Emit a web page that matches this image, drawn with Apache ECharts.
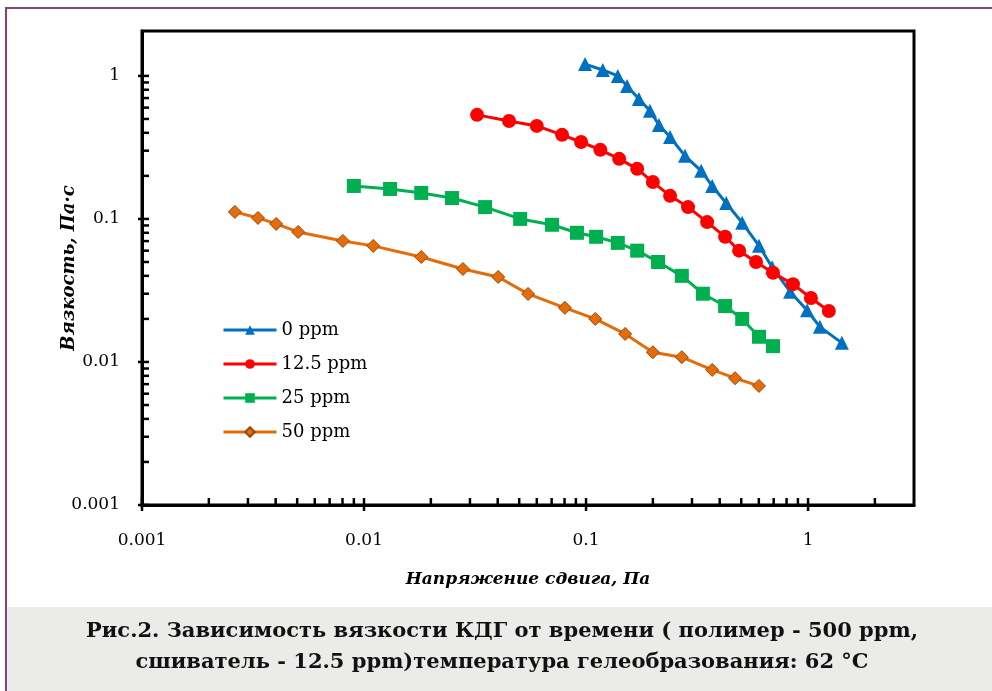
<!DOCTYPE html>
<html><head><meta charset="utf-8">
<script src="https://cdn.jsdelivr.net/npm/echarts@6/dist/echarts.min.js"></script>
<style>html,body{margin:0;padding:0;background:#fff}#c{width:992px;height:691px}</style>
</head><body><div id="c"></div>
<script>
const seriesNames = ['0 ppm', '12.5 ppm', '25 ppm', '50 ppm'];
const x0 = [0.099, 0.119, 0.139, 0.153, 0.173, 0.194, 0.213, 0.239, 0.279, 0.330, 0.370, 0.428, 0.505, 0.601, 0.689, 0.830, 0.99, 1.13, 1.42];
const y0 = [1.21, 1.10, 1.00, 0.85, 0.69, 0.57, 0.454, 0.374, 0.276, 0.217, 0.170, 0.129, 0.094, 0.065, 0.046, 0.031, 0.023, 0.0176, 0.0136];
const x1 = [0.0323, 0.045, 0.060, 0.078, 0.095, 0.116, 0.141, 0.170, 0.200, 0.239, 0.288, 0.351, 0.423, 0.489, 0.583, 0.695, 0.855, 1.03, 1.24];
const y1 = [0.534, 0.484, 0.447, 0.387, 0.345, 0.304, 0.263, 0.224, 0.181, 0.145, 0.121, 0.095, 0.075, 0.060, 0.050, 0.042, 0.035, 0.028, 0.0227];
const x2 = [0.009, 0.0131, 0.0181, 0.0249, 0.0351, 0.0505, 0.0703, 0.091, 0.111, 0.139, 0.170, 0.211, 0.270, 0.336, 0.423, 0.505, 0.601, 0.695];
const y2 = [0.170, 0.162, 0.152, 0.140, 0.121, 0.100, 0.091, 0.080, 0.075, 0.068, 0.060, 0.050, 0.040, 0.030, 0.0246, 0.020, 0.015, 0.0129];
const x3 = [0.00262, 0.00333, 0.00402, 0.00505, 0.00803, 0.011, 0.0181, 0.0279, 0.0402, 0.0548, 0.0803, 0.110, 0.150, 0.200, 0.270, 0.370, 0.469, 0.601];
const y3 = [0.112, 0.1016, 0.0923, 0.0811, 0.0702, 0.0648, 0.0542, 0.0447, 0.0393, 0.0299, 0.0239, 0.0200, 0.0157, 0.0117, 0.0108, 0.0088, 0.0077, 0.0068];

const xMajorTicks = [0.001, 0.01, 0.1, 1];
const xTickLabels = ['0.001', '0.01', '0.1', '1'];
const yMajorTicks = [0.001, 0.01, 0.1, 1];
const yTickLabels = ['0.001', '0.01', '0.1', '1'];
const xMinorTicks = [0.002, 0.003, 0.004, 0.005, 0.006, 0.007, 0.008, 0.009,
  0.02, 0.03, 0.04, 0.05, 0.06, 0.07, 0.08, 0.09,
  0.2, 0.3, 0.4, 0.5, 0.6, 0.7, 0.8, 0.9, 2];
const yMinorTicks = [0.002, 0.003, 0.004, 0.005, 0.006, 0.007, 0.008, 0.009,
  0.02, 0.03, 0.04, 0.05, 0.06, 0.07, 0.08, 0.09,
  0.2, 0.3, 0.4, 0.5, 0.6, 0.7, 0.8, 0.9];

const xTitle = 'Напряжение сдвига, Па';
const yTitle = 'Вязкость, Па·с';
const caption1 = 'Рис.2. Зависимость вязкости КДГ от времени ( полимер - 500 ppm,';
const caption2 = 'сшиватель - 12.5 ppm)температура гелеобразования: 62 °C';

const X_MIN = 0.001, X_MAX = 3, Y_MIN = 0.001, Y_MAX = 2.06;
const SERIF = '"DejaVu Serif", "Liberation Serif", serif';

function zip(xs, ys) { return xs.map((x, i) => [x, ys[i]]); }
function labelFor(ticks, labels) {
  return function (v) {
    for (let i = 0; i < ticks.length; i++) {
      if (Math.abs(Math.log10(v) - Math.log10(ticks[i])) < 1e-6) return labels[i];
    }
    return '';
  };
}

// tick data: [x, y, kind]  kind 0 x-minor, 1 x-major, 2 y-minor, 3 y-major
const tickData = []
  .concat(xMinorTicks.map(v => [v, Y_MIN, 0]))
  .concat(xMajorTicks.map(v => [v, Y_MIN, 1]))
  .concat(yMinorTicks.map(v => [X_MIN, v, 2]))
  .concat(yMajorTicks.map(v => [X_MIN, v, 3]));

const chart = echarts.init(document.getElementById('c'));
const lineW = 3;
chart.setOption({
  animation: false,
  backgroundColor: '#fff',
  grid: { left: 142, right: 78, top: 31, bottom: 186, show: true, borderColor: '#000', borderWidth: 3, backgroundColor: 'transparent' },
  xAxis: {
    type: 'log', logBase: 10, min: X_MIN, max: X_MAX,
    axisLine: { show: true, lineStyle: { color: '#000', width: 3 } },
    axisTick: { show: false }, splitLine: { show: false }, minorTick: { show: false },
    axisLabel: { formatter: labelFor(xMajorTicks, xTickLabels), color: '#000', fontFamily: SERIF, fontSize: 17, margin: 27, showMinLabel: true, showMaxLabel: true },
    name: xTitle, nameLocation: 'middle', nameGap: 66,
    nameTextStyle: { fontFamily: SERIF, fontSize: 17, fontStyle: 'italic', fontWeight: 'bold', color: '#000' }
  },
  yAxis: {
    type: 'log', logBase: 10, min: Y_MIN, max: Y_MAX,
    axisLine: { show: true, lineStyle: { color: '#000', width: 3 } },
    axisTick: { show: false }, splitLine: { show: false }, minorTick: { show: false },
    axisLabel: { formatter: labelFor(yMajorTicks, yTickLabels), color: '#000', fontFamily: SERIF, fontSize: 17, margin: 22, showMinLabel: true, showMaxLabel: true },
    name: yTitle, nameLocation: 'middle', nameGap: 64, nameMoveOverlap: false,
    nameTextStyle: { fontFamily: SERIF, fontSize: 18, fontStyle: 'italic', fontWeight: 'bold', color: '#000' }
  },
  legend: {
    data: seriesNames, orient: 'vertical', left: 222, top: 320, padding: 0,
    itemWidth: 53, itemHeight: 12, itemGap: 14,
    lineStyle: { width: 3 },
    textStyle: { fontFamily: SERIF, fontSize: 18, color: '#000', lineHeight: 20 },
    selectedMode: false
  },
  series: [
    { name: seriesNames[0], type: 'line', data: zip(x0, y0), symbol: 'triangle', symbolSize: 14,
      lineStyle: { color: '#0070C0', width: lineW }, itemStyle: { color: '#0070C0' }, z: 4 },
    { name: seriesNames[1], type: 'line', data: zip(x1, y1), symbol: 'circle', symbolSize: 14,
      lineStyle: { color: '#FF0000', width: lineW }, itemStyle: { color: '#FF0000' }, z: 5 },
    { name: seriesNames[2], type: 'line', data: zip(x2, y2), symbol: 'rect', symbolSize: 14,
      lineStyle: { color: '#00B050', width: lineW }, itemStyle: { color: '#00B050' }, z: 3 },
    { name: seriesNames[3], type: 'line', data: zip(x3, y3), symbol: 'diamond', symbolSize: 13,
      lineStyle: { color: '#E46C0A', width: lineW }, itemStyle: { color: '#E46C0A', borderColor: '#984807', borderWidth: 1 }, z: 3 },
    { type: 'custom', silent: true, data: tickData, z: 10, clip: false,
      renderItem: function (params, api) {
        const kind = api.value(2);
        const p = api.coord([api.value(0), api.value(1)]);
        let shape;
        if (kind === 0) shape = { x1: p[0], y1: p[1], x2: p[0], y2: p[1] - 7 };
        else if (kind === 1) shape = { x1: p[0], y1: p[1] + 6, x2: p[0], y2: p[1] - 7 };
        else if (kind === 2) shape = { x1: p[0], y1: p[1], x2: p[0] + 7, y2: p[1] };
        else shape = { x1: p[0] - 4, y1: p[1], x2: p[0] + 7, y2: p[1] };
        return { type: 'line', shape: shape, style: { stroke: '#000', lineWidth: 2.5 } };
      }
    }
  ],
  graphic: [
    { type: 'rect', shape: { x: 7, y: 607, width: 985, height: 84 }, style: { fill: '#EBEBEA' }, silent: true },
    { type: 'line', shape: { x1: 6, y1: 8, x2: 992, y2: 8 }, style: { stroke: '#8B3F7D', lineWidth: 2 }, silent: true },
    { type: 'line', shape: { x1: 6, y1: 7, x2: 6, y2: 691 }, style: { stroke: '#8B3F7D', lineWidth: 2 }, silent: true },
    { type: 'text', x: 502, y: 632, silent: true,
      style: { text: caption1, fill: '#111', font: 'bold 21px "DejaVu Serif", serif', textAlign: 'center', textVerticalAlign: 'middle' } },
    { type: 'text', x: 502, y: 663, silent: true,
      style: { text: caption2, fill: '#111', font: 'bold 21px "DejaVu Serif", serif', textAlign: 'center', textVerticalAlign: 'middle' } }
  ]
});
</script>
</body></html>
